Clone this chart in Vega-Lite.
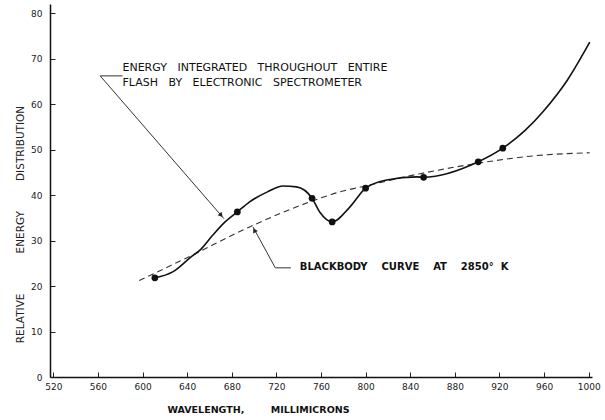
{
  "$schema": "https://vega.github.io/schema/vega-lite/v6.json",
  "width": 542,
  "height": 373,
  "autosize": {"type": "none"},
  "padding": {"left": 50, "top": 4, "right": 13, "bottom": 43},
  "background": "white",
  "config": {"view": {"stroke": null}},
  "datasets": {
    "curve": [
      {"nm": 611, "e": 21.8},
      {"nm": 627, "e": 23.1},
      {"nm": 643, "e": 26.3},
      {"nm": 652, "e": 28.0},
      {"nm": 663, "e": 31.2},
      {"nm": 674, "e": 34.1},
      {"nm": 685, "e": 36.3},
      {"nm": 696, "e": 38.5},
      {"nm": 712, "e": 40.7},
      {"nm": 726, "e": 42.0},
      {"nm": 738, "e": 41.8},
      {"nm": 752, "e": 39.3},
      {"nm": 759, "e": 36.2},
      {"nm": 770, "e": 34.1},
      {"nm": 786, "e": 37.4},
      {"nm": 800, "e": 41.5},
      {"nm": 819, "e": 43.3},
      {"nm": 846, "e": 44.0},
      {"nm": 852, "e": 43.9},
      {"nm": 901, "e": 47.3},
      {"nm": 923, "e": 50.3},
      {"nm": 943, "e": 54.2},
      {"nm": 960, "e": 58.6},
      {"nm": 981, "e": 65.3},
      {"nm": 1001, "e": 73.6}
    ],
    "dots": [
      {"nm": 611, "e": 21.8},
      {"nm": 685, "e": 36.3},
      {"nm": 752, "e": 39.3},
      {"nm": 770, "e": 34.1},
      {"nm": 800, "e": 41.5},
      {"nm": 852, "e": 43.9},
      {"nm": 901, "e": 47.3},
      {"nm": 923, "e": 50.3}
    ],
    "blackbody": [
      {"nm": 597, "e": 21.2},
      {"nm": 643, "e": 26.6},
      {"nm": 696, "e": 33.0},
      {"nm": 750, "e": 38.5},
      {"nm": 777, "e": 40.7},
      {"nm": 800, "e": 42.0},
      {"nm": 849, "e": 44.7},
      {"nm": 901, "e": 47.0},
      {"nm": 950, "e": 48.6},
      {"nm": 1001, "e": 49.3}
    ],
    "leaders": [
      {"id": "a", "ord": 1, "nm": 582, "e": 66.2},
      {"id": "a", "ord": 2, "nm": 562, "e": 66.2},
      {"id": "a", "ord": 3, "nm": 673, "e": 34.8},
      {"id": "b", "ord": 1, "nm": 733, "e": 24.0},
      {"id": "b", "ord": 2, "nm": 719, "e": 24.0},
      {"id": "b", "ord": 3, "nm": 699, "e": 33.0}
    ],
    "heads": [
      {"id": "a", "nm": 670, "e": 35.7},
      {"id": "b", "nm": 700.6, "e": 32.1}
    ],
    "notes": [
      {"id": "top1", "nm": 582, "e": 67.9, "txt": "ENERGY\u00a0\u00a0\u00a0INTEGRATED\u00a0\u00a0\u00a0THROUGHOUT\u00a0\u00a0\u00a0ENTIRE"},
      {"id": "top2", "nm": 582, "e": 64.6, "txt": "FLASH\u00a0\u00a0\u00a0BY\u00a0\u00a0\u00a0ELECTRONIC\u00a0\u00a0\u00a0SPECTROMETER"},
      {"id": "bb", "nm": 741, "e": 24.2, "txt": "BLACKBODY\u00a0\u00a0\u00a0\u00a0CURVE\u00a0\u00a0\u00a0\u00a0AT\u00a0\u00a0\u00a0\u00a02850°\u00a0\u00a0K"}
    ]
  },
  "layer": [
    {
      "data": {"name": "blackbody"},
      "mark": {"type": "line", "interpolate": "monotone", "stroke": "#333", "strokeWidth": 1.1, "strokeDash": [6, 4]},
      "encoding": {
        "x": {
          "field": "nm", "type": "quantitative",
          "scale": {"domain": [517, 1003], "nice": false, "zero": false},
          "axis": {
            "values": [520, 560, 600, 640, 680, 720, 760, 800, 840, 880, 920, 960, 1000],
            "format": "d",
            "title": "WAVELENGTH,\u00a0\u00a0\u00a0\u00a0\u00a0\u00a0\u00a0\u00a0MILLIMICRONS",
            "titleFont": "DejaVu Sans", "titleFontSize": 9.5, "titleFontWeight": "bold", "titleColor": "#111",
            "titleX": 208, "titleY": 32, "titleAnchor": null, "titleAlign": "center", "titleBaseline": "middle",
            "labelFont": "DejaVu Sans", "labelFontSize": 9, "labelColor": "#222",
            "labelPadding": 10, "tickSize": -5, "tickColor": "#222", "tickWidth": 1,
            "domainColor": "#111", "domainWidth": 1.5, "grid": false
          }
        },
        "y": {
          "field": "e", "type": "quantitative",
          "scale": {"domain": [0, 82], "nice": false},
          "axis": {
            "values": [0, 10, 20, 30, 40, 50, 60, 70, 80],
            "format": "d",
            "title": "RELATIVE\u00a0\u00a0\u00a0\u00a0\u00a0\u00a0\u00a0\u00a0\u00a0\u00a0\u00a0\u00a0ENERGY\u00a0\u00a0\u00a0\u00a0\u00a0\u00a0\u00a0\u00a0\u00a0DISTRIBUTION",
            "titleFont": "DejaVu Sans", "titleFontSize": 10.5, "titleFontWeight": "normal", "titleColor": "#222",
            "titleX": -30, "titleY": 220, "titleAngle": 270, "titleAlign": "center", "titleBaseline": "middle",
            "labelFont": "DejaVu Sans", "labelFontSize": 9, "labelColor": "#222",
            "labelPadding": 13, "tickSize": -5, "tickColor": "#222", "tickWidth": 1,
            "domainColor": "#111", "domainWidth": 1.5, "grid": false
          }
        }
      }
    },
    {
      "data": {"name": "curve"},
      "mark": {"type": "line", "interpolate": "monotone", "stroke": "#111", "strokeWidth": 1.6},
      "encoding": {
        "x": {"field": "nm", "type": "quantitative"},
        "y": {"field": "e", "type": "quantitative"}
      }
    },
    {
      "data": {"name": "dots"},
      "mark": {"type": "point", "filled": true, "color": "#111", "size": 45, "opacity": 1},
      "encoding": {
        "x": {"field": "nm", "type": "quantitative"},
        "y": {"field": "e", "type": "quantitative"}
      }
    },
    {
      "data": {"name": "leaders"},
      "mark": {"type": "line", "stroke": "#333", "strokeWidth": 1},
      "encoding": {
        "x": {"field": "nm", "type": "quantitative"},
        "y": {"field": "e", "type": "quantitative"},
        "detail": {"field": "id"},
        "order": {"field": "ord"}
      }
    },
    {
      "data": {"name": "heads"},
      "transform": [{"filter": "datum.id == 'a'"}],
      "mark": {"type": "point", "shape": "triangle", "filled": true, "color": "#222", "size": 28, "angle": 138, "opacity": 1},
      "encoding": {
        "x": {"field": "nm", "type": "quantitative"},
        "y": {"field": "e", "type": "quantitative"}
      }
    },
    {
      "data": {"name": "heads"},
      "transform": [{"filter": "datum.id == 'b'"}],
      "mark": {"type": "point", "shape": "triangle", "filled": true, "color": "#222", "size": 28, "angle": 331, "opacity": 1},
      "encoding": {
        "x": {"field": "nm", "type": "quantitative"},
        "y": {"field": "e", "type": "quantitative"}
      }
    },
    {
      "data": {"name": "notes"},
      "transform": [{"filter": "datum.id != 'bb'"}],
      "mark": {"type": "text", "align": "left", "baseline": "middle", "font": "DejaVu Sans", "fontSize": 11, "color": "#111"},
      "encoding": {
        "x": {"field": "nm", "type": "quantitative"},
        "y": {"field": "e", "type": "quantitative"},
        "text": {"field": "txt"}
      }
    },
    {
      "data": {"name": "notes"},
      "transform": [{"filter": "datum.id == 'bb'"}],
      "mark": {"type": "text", "align": "left", "baseline": "middle", "font": "DejaVu Sans", "fontSize": 10, "fontWeight": "bold", "color": "#111"},
      "encoding": {
        "x": {"field": "nm", "type": "quantitative"},
        "y": {"field": "e", "type": "quantitative"},
        "text": {"field": "txt"}
      }
    }
  ]
}
